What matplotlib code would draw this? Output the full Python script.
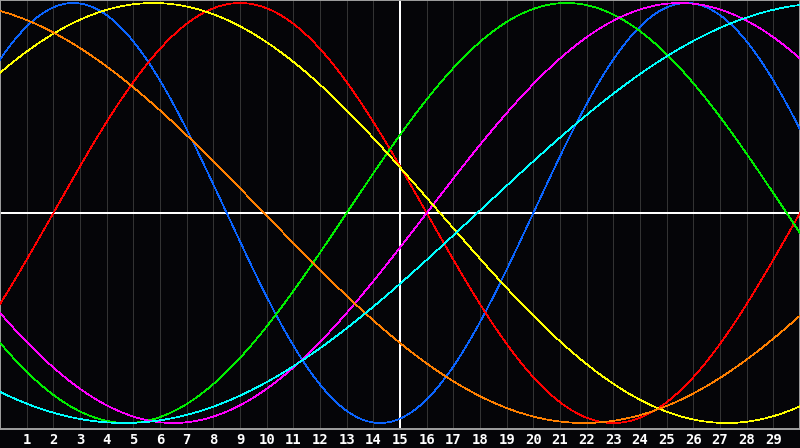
import numpy as np
import matplotlib
matplotlib.use('Agg')
import matplotlib.pyplot as plt

# cycle lengths (days) and day offset at the left edge of the chart
colors = ['#0a64ff', '#ff0000', '#00ee00', '#ff00ff', '#ffff00', '#ff8000', '#00ffff']
periods = [23, 28, 33, 38, 43, 48, 53]
offsets = [3.0, 26.0, 20.0, 22.0, 5.0, 14.1, 35.1]
days = list(range(1, 30))

bg = '#050508'
fig = plt.figure(figsize=(8, 4.48), dpi=100, facecolor=bg)
ax = fig.add_axes([0, 1 - 428.5 / 448, 1, 428.5 / 448], facecolor=bg)

t = np.linspace(0, 30, 1200)
for c, p, o in zip(colors, periods, offsets):
    ax.plot(t, np.sin(2 * np.pi * (t + o) / p), color=c, lw=0.5,
            antialiased=False, zorder=3)

for d in days:
    if d == 15:
        continue
    ax.axvline(d, color='#333333', lw=0.6, zorder=1, antialiased=False)
ax.axvline(15, color='white', lw=1.4, zorder=2, antialiased=False)
ax.axhline(0, color='white', lw=1.4, zorder=2, antialiased=False)

ax.set_xlim(0, 30)
ax.set_ylim((213 - 428.5) / 210, 213 / 210)
ax.set_yticks([])
ax.set_xticks(days)
ax.set_xticklabels([str(d) for d in days], family='DejaVu Sans Mono',
                   fontweight='bold', fontsize=10, color='white')
ax.tick_params(axis='x', length=0, pad=3)

for spine in ax.spines.values():
    spine.set_color('#a0a0a0')
    spine.set_linewidth(1.4)

fig.savefig('out.png', dpi=100, facecolor=bg)
